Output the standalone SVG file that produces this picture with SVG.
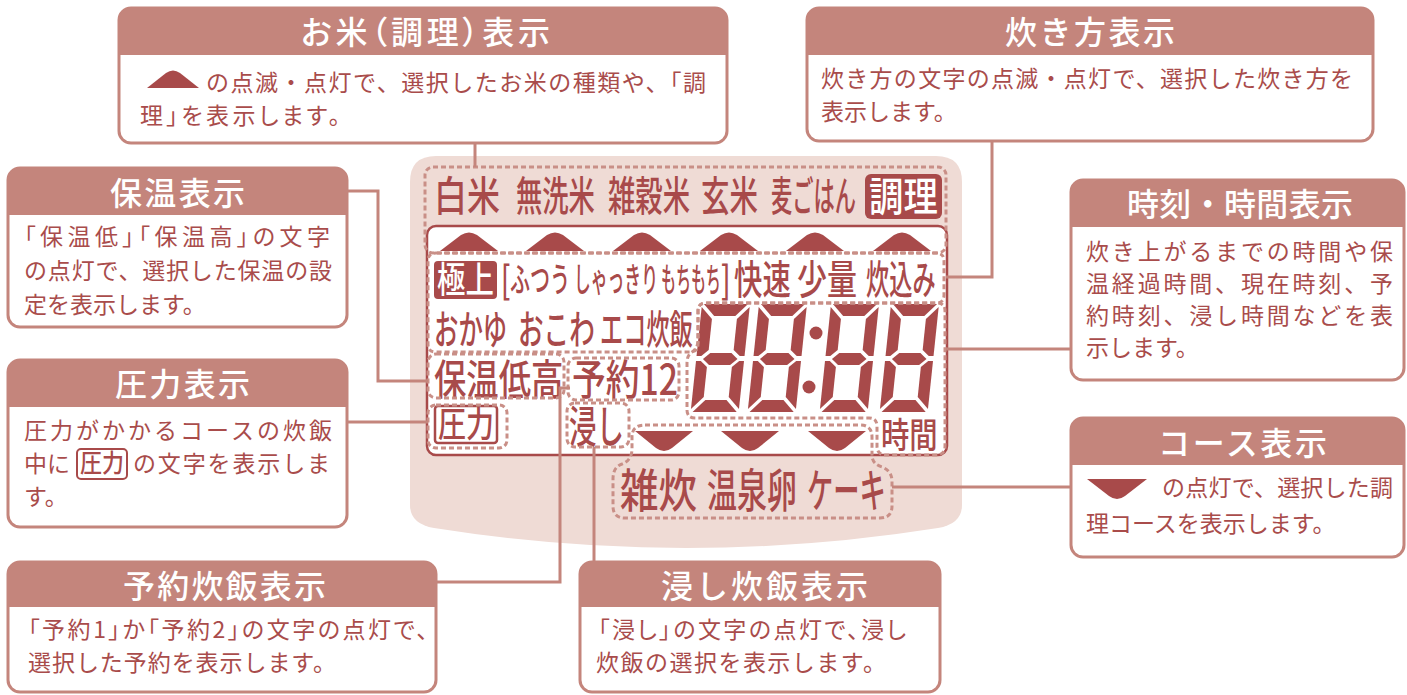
<svg xmlns="http://www.w3.org/2000/svg" xmlns:xlink="http://www.w3.org/1999/xlink" width="1407" height="695" viewBox="0 0 1407 695">
<style>
.box{fill:#fff;stroke:#c4857c;stroke-width:3}
.hdr{fill:#c4857c}
.ttl{font-family:"Noto Sans CJK JP","Noto Sans",sans-serif;font-size:32px;font-weight:500;fill:#fff}
.body{font-family:"Noto Sans CJK JP","Noto Sans",sans-serif;font-size:23px;font-weight:400;fill:#a94c4b}
.palt{font-feature-settings:"palt"}
.lcd{font-family:"Noto Sans CJK JP","Noto Sans",sans-serif;font-weight:500;fill:#a84a4a}
.lcdw{font-family:"Noto Sans CJK JP","Noto Sans",sans-serif;font-weight:500;fill:#fff}
.dk{fill:#a84a4a}
.dash{fill:none;stroke:#c98f87;stroke-width:3;stroke-dasharray:5 3}
.conn{fill:none;stroke:#c4857c;stroke-width:3}
</style>
<defs>
<g id="seg8" class="dk">
<polygon points="2,0 48,0 36,12 14,12"/>
<polygon points="0,3 12,15 12,46 5,52 0,52"/>
<polygon points="50,3 38,15 38,46 45,52 50,52"/>
<polygon points="7,55 14,49 36,49 43,55 36,61 14,61"/>
<polygon points="0,57 5,57 12,63 12,93 0,105"/>
<polygon points="50,57 45,57 38,63 38,93 50,105"/>
<polygon points="14,96 36,96 48,108 2,108"/>
</g>
<path id="upTri" d="M-29,0 L-8,-16 Q0,-21 8,-16 L29,0 Z"/>
<path id="dnTri" d="M-29,0 H29 L8,17 Q0,23 -8,17 Z"/>
</defs>

<!-- LCD panel -->
<g id="panel">
<path fill="#efdbd5" d="M436,156 H936 Q962,156 962,182 V505 Q962,524 938,528 Q686,568 434,528 Q410,524 410,505 V182 Q410,156 436,156 Z"/>
<rect x="427" y="226" width="520" height="229" rx="9" fill="#fff" stroke="#a84a4a" stroke-width="2.5"/>
<!-- top row -->
<text class="lcd" font-size="41" transform="translate(434,211) scale(0.805,1)">白米</text>
<text class="lcd" font-size="41" transform="translate(516,211) scale(0.642,1)">無洗米</text>
<text class="lcd" font-size="41" transform="translate(608,211) scale(0.667,1)">雑穀米</text>
<text class="lcd" font-size="41" transform="translate(701,211) scale(0.695,1)">玄米</text>
<text class="lcd" font-size="41" transform="translate(771,211) scale(0.518,1)">麦ごはん</text>
<rect class="dk" x="865" y="174" width="77" height="45" rx="6"/>
<text class="lcdw" font-size="40" transform="translate(869,211) scale(0.86,1)">調理</text>
<!-- up triangles -->
<use xlink:href="#upTri" class="dk" transform="translate(469,251)"/>
<use xlink:href="#upTri" class="dk" transform="translate(555,251)"/>
<use xlink:href="#upTri" class="dk" transform="translate(642,251)"/>
<use xlink:href="#upTri" class="dk" transform="translate(729,251)"/>
<use xlink:href="#upTri" class="dk" transform="translate(815,251)"/>
<use xlink:href="#upTri" class="dk" transform="translate(902,251)"/>
<!-- cooking style row -->
<rect class="dk" x="434" y="261" width="63" height="38" rx="4"/>
<text class="lcdw" font-size="36" transform="translate(437,293) scale(0.79,1)">極上</text>
<text class="lcd" font-size="38" transform="translate(501,294) scale(0.7,1)">[</text>
<text class="lcd" font-size="34" transform="translate(510,292) scale(0.59,1)">ふつう</text>
<text class="lcd" font-size="34" transform="translate(574,292) scale(0.494,1)">しゃっきり</text>
<text class="lcd" font-size="34" transform="translate(661,292) scale(0.44,1)">もちもち</text>
<text class="lcd" font-size="38" transform="translate(721,294) scale(0.7,1)">]</text>
<text class="lcd" font-size="40" transform="translate(734,294) scale(0.71,1)">快速</text>
<text class="lcd" font-size="40" transform="translate(797,294) scale(0.75,1)">少量</text>
<text class="lcd" font-size="40" transform="translate(866,294) scale(0.58,1)">炊込み</text>
<text class="lcd" font-size="40" transform="translate(434,344) scale(0.61,1)">おかゆ</text>
<text class="lcd" font-size="40" transform="translate(518,344) scale(0.64,1)">おこわ</text>
<text class="lcd" font-size="40" transform="translate(600,344) scale(0.58,1)">エコ炊飯</text>
<text class="lcd" font-size="42" transform="translate(434,395) scale(0.77,1)">保温低高</text>
<text class="lcd" x="572" y="395" font-size="42" textLength="106" lengthAdjust="spacingAndGlyphs">予約12</text>
<rect x="435" y="406" width="62" height="37" rx="3" fill="none" stroke="#a84a4a" stroke-width="2.5"/>
<text class="lcd" font-size="35" transform="translate(438,437) scale(0.8,1)">圧力</text>
<text class="lcd" font-size="44" transform="translate(569,443) scale(0.625,1)">浸し</text>
<text class="lcd" font-size="35" transform="translate(881,448) scale(0.81,1)">時間</text>
<!-- digits -->
<use xlink:href="#seg8" transform="translate(702,304) skewX(-6) scale(0.96,1)"/>
<use xlink:href="#seg8" transform="translate(759,304) skewX(-6) scale(0.96,1)"/>
<use xlink:href="#seg8" transform="translate(831,304) skewX(-6) scale(0.96,1)"/>
<use xlink:href="#seg8" transform="translate(891,304) skewX(-6) scale(0.96,1)"/>
<circle class="dk" cx="816" cy="333" r="6.5"/>
<circle class="dk" cx="809" cy="387" r="6.5"/>
<!-- down triangles -->
<use xlink:href="#dnTri" class="dk" transform="translate(664,431)"/>
<use xlink:href="#dnTri" class="dk" transform="translate(750,431)"/>
<use xlink:href="#dnTri" class="dk" transform="translate(837,431)"/>
<text class="lcd" font-size="46" transform="translate(620,507) scale(0.837,1)">雑炊</text>
<text class="lcd" font-size="46" transform="translate(707,507) scale(0.652,1)">温泉卵</text>
<text class="lcd" font-size="46" transform="translate(807,507) scale(0.572,1)">ケーキ</text>
</g>

<!-- dashed group outlines -->
<g id="outlines">
<rect class="dash" x="425" y="167" width="521" height="86" rx="8"/>
<path class="dash" d="M436,253 H936 Q944,253 944,261 V295 Q944,303 936,303 H706 Q698,303 698,311 V344 Q698,352 690,352 H436 Q428,352 428,344 V261 Q428,253 436,253 Z"/>
<path class="dash" d="M706,303 H937 Q945,303 945,311 V446 Q945,455 936,455 H886 Q877,455 877,446 V426 Q877,418 869,418 H695 Q687,418 687,410 V363 Q687,355 692,352 Q698,348 698,340 V311 Q698,303 706,303 Z"/>
<rect class="dash" x="428" y="354" width="136" height="44" rx="8"/>
<rect class="dash" x="568" y="358" width="111" height="42" rx="8"/>
<rect class="dash" x="428" y="405" width="79" height="43" rx="8"/>
<rect class="dash" x="567" y="403" width="62" height="44" rx="8"/>
<path class="dash" d="M645,425 H860 Q872,425 872,437 V455 Q872,464 882,467 Q892,471 892,481 V506 Q892,518 880,518 H625 Q613,518 613,506 V479 Q613,467 622,464 Q632,460 632,449 V437 Q632,425 645,425 Z"/>
</g>

<!-- connectors -->
<g id="connectors">
<path class="conn" d="M475,143 V167"/>
<path class="conn" d="M992,141 V277 H946"/>
<path class="conn" d="M347,191 H378 V381 H428"/>
<path class="conn" d="M347,422 H428"/>
<path class="conn" d="M946,349 H1071"/>
<path class="conn" d="M892,487 H1071"/>
<path class="conn" d="M436,582 H560 V388 H570"/>
<path class="conn" d="M594,447 V562"/>
</g>

<!-- callout nodes -->
<g id="node-rice">
<rect class="box" x="119" y="8" width="608" height="135" rx="12"/>
<path class="hdr" d="M119,55 V20 A12,12 0 0 1 131,8 H715 A12,12 0 0 1 727,20 V55 Z"/>
<text class="ttl palt" x="301" y="44" textLength="249">お米（調理）表示</text>
<path class="dk" d="M147,88 L166,73 Q173,68 180,73 L199,88 Z"/>
<text class="body" x="206" y="91" textLength="500">の点滅・点灯で、選択したお米の種類や、「調</text>
<text class="body palt" x="140" y="124" textLength="200">理」を表示します。</text>
</g>

<g id="node-method">
<rect class="box" x="807" y="8" width="566" height="133" rx="12"/>
<path class="hdr" d="M807,55 V20 A12,12 0 0 1 819,8 H1361 A12,12 0 0 1 1373,20 V55 Z"/>
<text class="ttl" x="1005" y="44" textLength="170">炊き方表示</text>
<text class="body" x="821" y="87" textLength="532">炊き方の文字の点滅・点灯で、選択した炊き方を</text>
<text class="body" x="821" y="120">表示します。</text>
</g>

<g id="node-keepwarm">
<rect class="box" x="8" y="168" width="339" height="159" rx="12"/>
<path class="hdr" d="M8,215 V180 A12,12 0 0 1 20,168 H335 A12,12 0 0 1 347,180 V215 Z"/>
<text class="ttl" x="110" y="205" textLength="135">保温表示</text>
<text class="body palt" x="24" y="245" textLength="306">「保温低」「保温高」の文字</text>
<text class="body" x="24" y="279" textLength="308">の点灯で、選択した保温の設</text>
<text class="body" x="24" y="313">定を表示します。</text>
</g>

<g id="node-pressure">
<rect class="box" x="8" y="360" width="339" height="167" rx="12"/>
<path class="hdr" d="M8,407 V372 A12,12 0 0 1 20,360 H335 A12,12 0 0 1 347,372 V407 Z"/>
<text class="ttl" x="115" y="396" textLength="135">圧力表示</text>
<text class="body" x="24" y="439" textLength="308">圧力がかかるコースの炊飯</text>
<text class="body" x="24" y="472">中に</text>
<rect x="77" y="449" width="50" height="30" rx="4" fill="#fff" stroke="#a84a4a" stroke-width="2"/>
<text class="lcd" font-size="25" font-weight="700" transform="translate(80,472) scale(0.88,1)">圧力</text>
<text class="body" x="133" y="472" textLength="197">の文字を表示しま</text>
<text class="body" x="24" y="505">す。</text>
</g>

<g id="node-time">
<rect class="box" x="1071" y="180" width="333" height="200" rx="12"/>
<path class="hdr" d="M1071,227 V192 A12,12 0 0 1 1083,180 H1392 A12,12 0 0 1 1404,192 V227 Z"/>
<text class="ttl" x="1127" y="216" textLength="226">時刻・時間表示</text>
<text class="body" x="1086" y="260" font-size="25" textLength="307">炊き上がるまでの時間や保</text>
<text class="body" x="1086" y="292" font-size="25" textLength="307">温経過時間、現在時刻、予</text>
<text class="body" x="1086" y="324" font-size="25" textLength="307">約時刻、浸し時間などを表</text>
<text class="body" x="1086" y="356" font-size="25">示します。</text>
</g>

<g id="node-course">
<rect class="box" x="1071" y="418" width="333" height="139" rx="12"/>
<path class="hdr" d="M1071,465 V430 A12,12 0 0 1 1083,418 H1392 A12,12 0 0 1 1404,430 V465 Z"/>
<text class="ttl" x="1158" y="455" textLength="169">コース表示</text>
<path class="dk" d="M1087,479 H1147 L1125,496 Q1117,502 1109,496 Z"/>
<text class="body" x="1162" y="496" textLength="231">の点灯で、選択した調</text>
<text class="body" x="1086" y="532">理コースを表示します。</text>
</g>

<g id="node-reserve">
<rect class="box" x="8" y="562" width="428" height="130" rx="12"/>
<path class="hdr" d="M8,607 V574 A12,12 0 0 1 20,562 H424 A12,12 0 0 1 436,574 V607 Z"/>
<text class="ttl" x="123" y="598" textLength="203">予約炊飯表示</text>
<text class="body palt" x="28" y="638" textLength="400">「予約1」か「予約2」の文字の点灯で、</text>
<text class="body" x="28" y="671" textLength="308">選択した予約を表示します。</text>
</g>

<g id="node-soak">
<rect class="box" x="580" y="562" width="360" height="130" rx="12"/>
<path class="hdr" d="M580,607 V574 A12,12 0 0 1 592,562 H928 A12,12 0 0 1 940,574 V607 Z"/>
<text class="ttl" x="661" y="598" textLength="207">浸し炊飯表示</text>
<text class="body palt" x="598" y="638" textLength="308">「浸し」の文字の点灯で、浸し</text>
<text class="body" x="596" y="671" textLength="290">炊飯の選択を表示します。</text>
</g>
</svg>
